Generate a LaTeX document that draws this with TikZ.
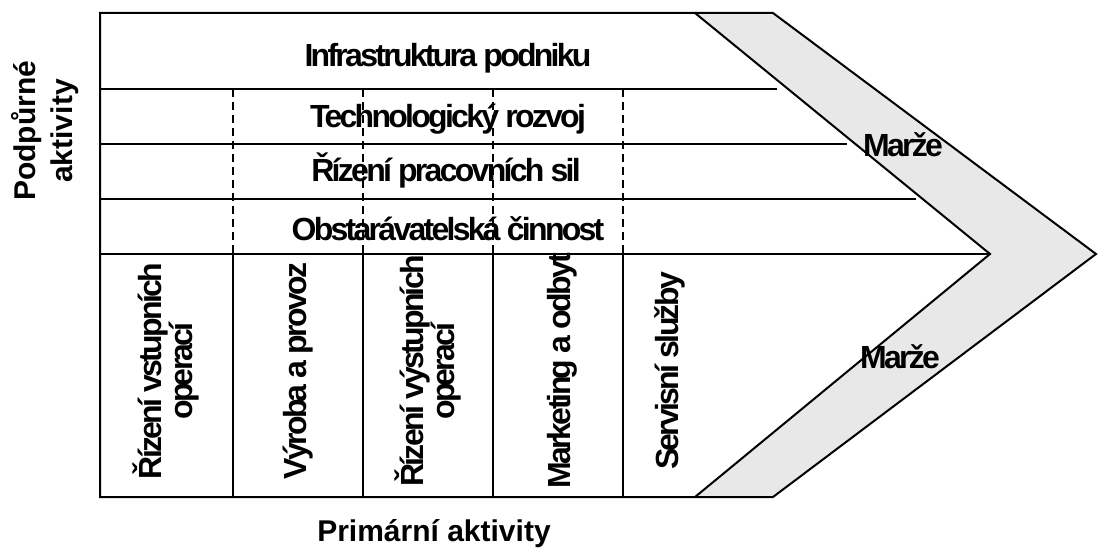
\documentclass[tikz,border=0pt]{standalone}
\usepackage{fontspec}
\setmainfont{Liberation Sans}
\newfontfamily\cellfont[LetterSpace=-8.5]{Liberation Sans}

\tikzset{
  frame/.style={line width=2pt, line join=miter},
  rowline/.style={line width=2pt},
  dashline/.style={line width=2pt, dash pattern=on 8pt off 5pt},
  cell/.style={font=\cellfont\bfseries\fontsize{32}{31}\selectfont, inner sep=0pt, align=center},
  side/.style={font=\bfseries\fontsize{30}{37}\selectfont, inner sep=0pt, align=center},
}

\begin{document}
\begin{tikzpicture}[x=1pt,y=-1pt]
  \useasboundingbox (0,0) rectangle (1098,548);

  % corners of the chain
  \coordinate (tl) at (100,13);
  \coordinate (bl) at (100,497);
  \coordinate (ti) at (695,13);
  \coordinate (to) at (773,13);
  \coordinate (bi) at (695,497);
  \coordinate (bo) at (773,497);
  \coordinate (pi) at (990,254);
  \coordinate (po) at (1096,254);

  % margin band
  \fill[black!9] (ti) -- (to) -- (po) -- (bo) -- (bi) -- (pi) -- cycle;
  \draw[frame] (ti) -- (pi) -- (bi);
  \draw[frame] (bi) -- (bl) -- (tl) -- (to) -- (po) -- (bo) -- cycle;

  % support rows
  \foreach \y/\x in {89/777, 144/847, 199/916}
    \draw[rowline] (100,\y) -- (\x,\y);
  \draw[rowline] (100,254) -- (pi);

  % column borders
  \foreach \x in {233, 363, 493, 623} {
    \draw[dashline] (\x,89) -- (\x,254);
    \draw[rowline] (\x,254) -- (\x,497);
  }

  % support activities
  \node[cell, anchor=base] (infra) at (448,67) {Infrastruktura podniku};
  \node[cell, anchor=base] (tech) at (448,128) {Technologický rozvoj};
  \node[cell, anchor=base] (hr) at (446,182) {Řízení pracovních sil};
  \node[cell, anchor=base] (proc) at (448,241) {Obstarávatelská činnost};

  % primary activities
  \node[cell, rotate=90] (inlog) at (166,371) {Řízení vstupních\\operací};
  \node[cell, rotate=90] (oper) at (298,371) {Výroba a provoz};
  \node[cell, rotate=90] (outlog) at (428,371) {Řízení výstupních\\operací};
  \node[cell, rotate=90] (mark) at (562,371) {Marketing a odbyt};
  \node[cell, rotate=90] (serv) at (670,371) {Servisní služby};

  % margin
  \node[cell, anchor=base] (marza1) at (903,157) {Marže};
  \node[cell, anchor=base] (marza2) at (900,368) {Marže};

  % axis labels
  \node[side, rotate=90] (support) at (45,131) {Podpůrné\\aktivity};
  \node[side, anchor=base] (primary) at (434,541) {Primární aktivity};
\end{tikzpicture}
\end{document}
